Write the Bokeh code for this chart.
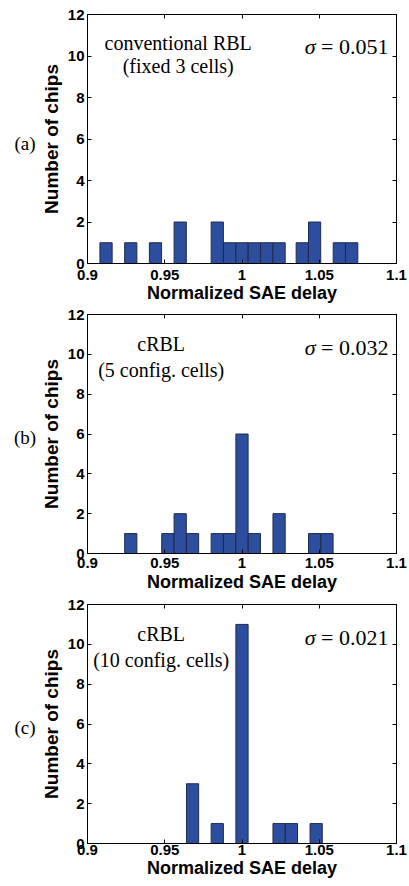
from bokeh.plotting import figure
from bokeh.layouts import column, row
from bokeh.models import (FixedTicker, LinearAxis, Label, Range1d,
                          CustomJSTickFormatter)
from bokeh.core.properties import value
from bokeh.embed import file_html
from bokeh.resources import INLINE

# ---------------- data ----------------
x_ticks = [0.9, 0.95, 1.0, 1.05, 1.1]
x_tick_labels = ["0.9", "0.95", "1", "1.05", "1.1"]
y_ticks = [0, 2, 4, 6, 8, 10, 12]
bin_width = 0.0079

a_delay = [0.912, 0.928, 0.944, 0.960, 0.984, 0.992, 1.000, 1.008, 1.016,
           1.024, 1.039, 1.047, 1.063, 1.071]
a_chips = [1, 1, 1, 2, 2, 1, 1, 1, 1, 1, 1, 2, 1, 1]

b_delay = [0.928, 0.952, 0.960, 0.968, 0.984, 0.992, 1.000, 1.008, 1.024,
           1.047, 1.055]
b_chips = [1, 1, 2, 1, 1, 1, 6, 1, 2, 1, 1]

c_delay = [0.968, 0.984, 1.000, 1.024, 1.032, 1.048]
c_chips = [3, 1, 11, 1, 1, 1]

panel_tags = ["(a)", "(b)", "(c)"]
text_line1 = ["conventional RBL", "cRBL", "cRBL"]
text_line2 = ["(fixed 3 cells)", "(5 config. cells)", "(10 config. cells)"]
sigma_values = ["0.051", "0.032", "0.021"]

x_label = "Normalized SAE delay"
y_label = "Number of chips"

BAR_FILL = "#2d4e9f"
BAR_LINE = "#1e2a4a"
SANS = "Liberation Sans"
SERIF = "Liberation Serif"
TAG_W = 37


def make_tag(tag, height, top, bottom):
    t = figure(width=TAG_W, height=height, x_range=Range1d(0, TAG_W),
               y_range=Range1d(0, 12), output_backend="svg",
               toolbar_location=None, min_border_left=0, min_border_right=0,
               min_border_top=top, min_border_bottom=bottom)
    t.axis.visible = False
    t.grid.visible = False
    t.outline_line_color = None
    t.background_fill_color = "white"
    t.border_fill_color = "white"
    t.text(x=[24.5], y=[5.8], text=[tag], text_font=value(SERIF),
           text_font_size="19px", text_align="center",
           text_baseline="middle", text_color="black")
    return t


def make_panel(delay, chips, line1, line2, sigma, height, top, bottom,
               tick_standoff, label_standoff, txt_x, l1_y, l2_y, sig_y):
    p = figure(width=409 - TAG_W, height=height, x_range=Range1d(0.9, 1.1),
               y_range=Range1d(0, 12), output_backend="svg",
               toolbar_location=None, min_border_left=86 - TAG_W,
               min_border_right=13, min_border_top=top,
               min_border_bottom=bottom)
    p.grid.visible = False
    p.background_fill_color = "white"
    p.border_fill_color = "white"
    p.outline_line_color = "black"
    p.outline_line_width = 1
    p.outline_line_alpha = 1.0

    p.vbar(x=delay, top=chips, bottom=0, width=bin_width,
           fill_color=BAR_FILL, line_color=BAR_LINE, line_width=1)

    xa = p.xaxis[0]
    xa.ticker = FixedTicker(ticks=x_ticks)
    xa.major_label_overrides = dict(zip(x_ticks, x_tick_labels))
    xa.axis_label = x_label
    ya = p.yaxis[0]
    ya.ticker = FixedTicker(ticks=y_ticks)
    ya.axis_label = y_label

    for ax in (xa, ya):
        ax.axis_line_color = "black"
        ax.major_tick_in = 4
        ax.major_tick_out = 0
        ax.minor_tick_in = 0
        ax.minor_tick_out = 0
        ax.major_label_text_font = SANS
        ax.major_label_text_font_style = "bold"
        ax.major_label_text_font_size = "15px"
        ax.major_label_text_color = "black"
        ax.axis_label_text_font = SANS
        ax.axis_label_text_font_style = "bold"
        ax.axis_label_text_font_size = "18px"
        ax.axis_label_text_color = "black"
    ya.axis_label_text_font_size = "19px"
    xa.major_label_standoff = tick_standoff
    xa.axis_label_standoff = label_standoff
    ya.major_label_standoff = 3
    ya.axis_label_standoff = 3

    blank = CustomJSTickFormatter(code="return ''")
    ra = LinearAxis(ticker=FixedTicker(ticks=y_ticks), formatter=blank,
                    major_tick_in=4, major_tick_out=0, minor_tick_in=0,
                    minor_tick_out=0, major_label_standoff=0,
                    axis_line_color="black")
    p.add_layout(ra, "right")
    ta = LinearAxis(ticker=FixedTicker(ticks=x_ticks), formatter=blank,
                    major_tick_in=4, major_tick_out=0, minor_tick_in=0,
                    minor_tick_out=0, major_label_standoff=0,
                    axis_line_color="black")
    p.add_layout(ta, "above")

    p.add_layout(Label(x=txt_x, y=l1_y, text=line1, text_font=SERIF,
                       text_font_size="20px", text_align="center",
                       text_baseline="middle", text_color="black"))
    p.add_layout(Label(x=txt_x, y=l2_y, text=line2, text_font=SERIF,
                       text_font_size="20px", text_align="center",
                       text_baseline="middle", text_color="black"))
    p.add_layout(Label(x=1.0948, y=sig_y, text="= " + sigma, text_font=SERIF,
                       text_font_size="22px", text_align="right",
                       text_baseline="middle", text_color="black"))
    p.add_layout(Label(x=1.0477, y=sig_y, text="σ", text_font=SERIF,
                       text_font_size="22px", text_font_style="italic",
                       text_align="right", text_baseline="middle",
                       text_color="black"))
    return p


specs = [
    # height, top, bottom, tick standoff, label standoff, text x, y1, y2, sigma y
    (305, 14, 42, 6, 0, 0.9587, 10.65, 9.54, 10.46),
    (290, 9, 42, 4, 1, 0.9477, 10.54, 9.22, 10.36),
    (291, 9, 43, 1, 0, 0.9477, 10.51, 9.19, 10.36),
]
data = [(a_delay, a_chips), (b_delay, b_chips), (c_delay, c_chips)]

rows = []
for i in range(3):
    h, top, bot, ts, ls, tx, y1, y2, sy = specs[i]
    tag_fig = make_tag(panel_tags[i], h, top, bot)
    main = make_panel(data[i][0], data[i][1], text_line1[i], text_line2[i],
                      sigma_values[i], h, top, bot, ts, ls, tx, y1, y2, sy)
    rows.append(row(tag_fig, main, spacing=0))

layout = column(*rows, spacing=0)
open("out.html", "w").write(file_html(layout, INLINE))
